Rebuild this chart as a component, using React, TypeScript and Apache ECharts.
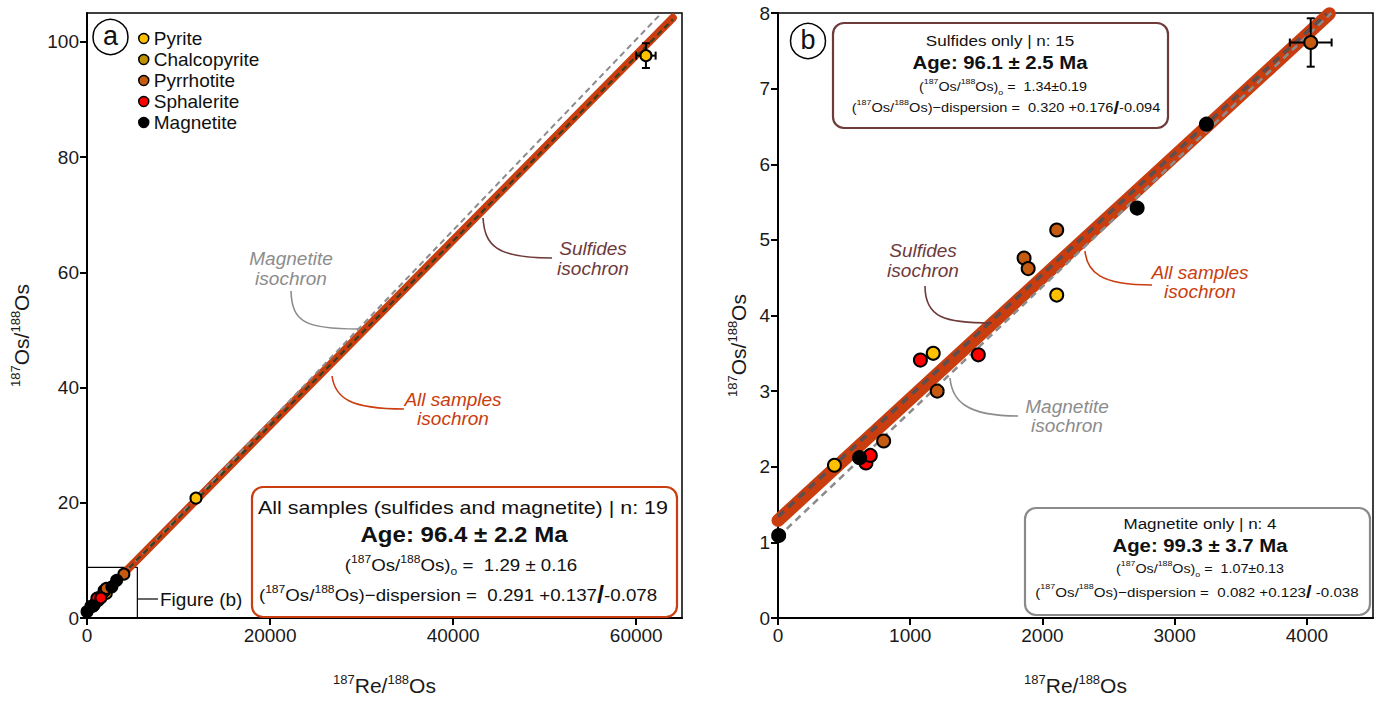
import React, { useEffect, useRef } from "react";
import * as echarts from "echarts";

const FONT = "'Liberation Sans', Arial, Helvetica, sans-serif";

const mineralNames = ["Pyrite", "Chalcopyrite", "Pyrrhotite", "Sphalerite", "Magnetite"];
const mineralColors = ["#FFC000", "#BF9000", "#C55A11", "#FF0000", "#000000"];

// [187Re/188Os, 187Os/188Os]
const pyrite = [[427, 2.02], [1174, 3.5], [2108, 4.27], [11900, 20.8], [61060, 97.6]];
const chalcopyrite: number[][] = [];
const pyrrhotite = [[799, 2.34], [1204, 3.0], [1861, 4.76], [1892, 4.62], [2108, 5.13], [4029, 7.61]];
const sphalerite = [[665, 2.05], [698, 2.15], [1077, 3.41], [1515, 3.48]];
const magnetite = [[5, 1.09], [617, 2.12], [2716, 5.42], [3240, 6.53]];
const mineralData = [pyrite, chalcopyrite, pyrrhotite, sphalerite, magnetite];

// [x, y, ±x, ±y]
const errorBars = [[61060, 97.6, 1060, 2.15], [4029, 7.61, 158, 0.32]];

// isochron end points
const allSamplesA = [[0, 1.29], [64000, 104.16]];
const sulfidesA = [[0, 1.34], [64000, 103.89]];
const magnetiteA = [[0, 1.07], [62600, 104.72]];
const allSamplesB = [[0, 1.29], [4170, 7.99]];
const sulfidesB = [[0, 1.34], [4150, 7.99]];
const magnetiteB = [[0, 1.07], [4185, 8.0]];

// outline of the zoomed region shown in panel (b)
const figureBBox = [[0, 8.8], [5500, 8.8], [5500, 0]];

const xTicksA = [0, 20000, 40000, 60000];
const yTicksA = [0, 20, 40, 60, 80, 100];
const xTicksB = [0, 1000, 2000, 3000, 4000];
const yTicksB = [0, 1, 2, 3, 4, 5, 6, 7, 8];

const ORANGE = "#C93D0E";
const SULF = "#6E3A3A";
const MAGN = "#8C8C8C";

const supStyle = (f: number, c = "#111") => ({
  fontSize: Math.round(f * 0.62),
  lineHeight: Math.round(f * 0.62),
  verticalAlign: "top",
  fontFamily: FONT,
  color: c,
  fill: c,
});
const subStyle = (f: number, c = "#111") => ({
  fontSize: Math.round(f * 0.62),
  lineHeight: Math.round(f * 0.62),
  verticalAlign: "bottom",
  fontFamily: FONT,
  color: c,
  fill: c,
});

const axisName = (a: string, b: string) => `{sup|187}${a}/{sup|188}${b}`;

function makeAxisCommon(ticks: number[]) {
  return {
    axisLine: { show: true, onZero: false, lineStyle: { color: "#000", width: 2 } },
    axisTick: { show: true, inside: false, length: 7, lineStyle: { color: "#000", width: 2 }, customValues: ticks },
    axisLabel: {
      customValues: ticks,
      fontSize: 19,
      color: "#1a1a1a",
      fontFamily: FONT,
      formatter: (v: number) => String(v),
    },
    splitLine: { show: false },
  };
}

const nameStyle = (shift: number) => ({
  fontSize: 21,
  lineHeight: 24,
  color: "#1a1a1a",
  fontFamily: FONT,
  padding: [0, shift * 2, 0, 0],
  rich: { sup: supStyle(21, "#1a1a1a") },
});

function text(x: number, y: number, t: string, f: number, opts: any = {}) {
  const fill = opts.fill || "#111";
  return {
    type: "text",
    x,
    y,
    scaleX: opts.scaleX || 1,
    silent: true,
    z: 100,
    style: {
      x: 0,
      y: 0,
      text: t,
      fontFamily: FONT,
      fontSize: f,
      fontWeight: opts.bold ? "bold" : "normal",
      fontStyle: opts.italic ? "italic" : "normal",
      fill,
      lineHeight: f + 6,
      align: opts.align || "center",
      verticalAlign: "middle",
      textAlign: opts.align || "center",
      textVerticalAlign: "middle",
      rich: {
        sup: supStyle(f, fill),
        sub: subStyle(f, fill),
        sl: { fontSize: Math.round(f * 1.35), fontWeight: "bold", lineHeight: f + 6, fill, color: fill, fontFamily: FONT },
      },
    },
  };
}

function box(x: number, y: number, w: number, h: number, stroke: string) {
  return {
    type: "rect",
    shape: { x, y, width: w, height: h, r: 11 },
    style: { fill: "#fff", stroke, lineWidth: 2.2 },
    silent: true,
    z: 90,
  };
}

function curve(p: number[], stroke: string) {
  return {
    type: "bezierCurve",
    shape: { x1: p[0], y1: p[1], cpx1: p[2], cpy1: p[3], cpx2: p[4], cpy2: p[5], x2: p[6], y2: p[7] },
    style: { stroke, lineWidth: 1.6, fill: "none" },
    silent: true,
    z: 95,
  };
}

const OSR = "({sup|187}Os/{sup|188}Os)";

function buildSeries() {
  const series: any[] = [];
  for (let p = 0; p < 2; p++) {
    const big = p === 1;
    const ax = { xAxisIndex: p, yAxisIndex: p };
    series.push({
      type: "line", ...ax, name: "All samples isochron", data: big ? allSamplesB : allSamplesA,
      symbol: "none", silent: true, z: 2,
      lineStyle: { color: ORANGE, width: big ? 13 : 8, cap: "round" },
    });
    series.push({
      type: "line", ...ax, name: "Magnetite isochron", data: big ? magnetiteB : magnetiteA,
      symbol: "none", silent: true, z: 3,
      lineStyle: { color: MAGN, width: big ? 2.5 : 2, type: big ? [7, 5] : [6, 4] },
    });
    series.push({
      type: "line", ...ax, name: "Sulfides isochron", data: big ? sulfidesB : sulfidesA,
      symbol: "none", silent: true, z: 4,
      lineStyle: { color: big ? "#5E4E4E" : "#354025", width: big ? 3.5 : 2.2, type: big ? [8, 6] : [6, 4] },
    });
    if (!big) {
      series.push({
        type: "line", ...ax, name: "Figure (b) box", data: figureBBox,
        symbol: "none", silent: true, z: 1,
        lineStyle: { color: "#000", width: 1.2 },
      });
    }
    series.push({
      type: "custom", ...ax, name: "errors", data: errorBars, z: 5, clip: true, silent: true,
      encode: { x: 0, y: 1 },
      renderItem: (_params: any, api: any) => {
        const x = api.value(0), y = api.value(1), ex = api.value(2), ey = api.value(3);
        const l = api.coord([x - ex, y]);
        const r = api.coord([x + ex, y]);
        const t = api.coord([x, y + ey]);
        const b = api.coord([x, y - ey]);
        const cap = 4;
        const st = { stroke: "#000", lineWidth: 2 };
        return {
          type: "group",
          children: [
            { type: "line", shape: { x1: l[0], y1: l[1], x2: r[0], y2: r[1] }, style: st },
            { type: "line", shape: { x1: t[0], y1: t[1], x2: b[0], y2: b[1] }, style: st },
            { type: "line", shape: { x1: l[0], y1: l[1] - cap, x2: l[0], y2: l[1] + cap }, style: st },
            { type: "line", shape: { x1: r[0], y1: r[1] - cap, x2: r[0], y2: r[1] + cap }, style: st },
            { type: "line", shape: { x1: t[0] - cap, y1: t[1], x2: t[0] + cap, y2: t[1] }, style: st },
            { type: "line", shape: { x1: b[0] - cap, y1: b[1], x2: b[0] + cap, y2: b[1] }, style: st },
          ],
        };
      },
    });
    mineralNames.forEach((n, i) => {
      series.push({
        type: "scatter", ...ax, name: n, data: mineralData[i], z: 6,
        symbol: "circle", symbolSize: big ? 13 : 11,
        itemStyle: { color: mineralColors[i], borderColor: "#000", borderWidth: 2, opacity: 1 },
      });
    });
  }
  return series;
}

function buildGraphic() {
  const g: any[] = [];
  // panel labels
  g.push({ type: "circle", shape: { cx: 110.5, cy: 37, r: 17.5 }, style: { fill: "#fff", stroke: "#000", lineWidth: 1.5 }, z: 90, silent: true });
  g.push(text(110.5, 36, "a", 27));
  g.push({ type: "circle", shape: { cx: 808, cy: 41, r: 17.5 }, style: { fill: "#fff", stroke: "#000", lineWidth: 1.5 }, z: 90, silent: true });
  g.push(text(808, 40, "b", 27));

  // Figure (b) pointer
  g.push({ type: "line", shape: { x1: 138, y1: 599, x2: 158, y2: 599 }, style: { stroke: "#000", lineWidth: 1.2 }, silent: true, z: 95 });
  g.push(text(160, 599, "Figure (b)", 19, { align: "left" }));

  // isochron labels panel a
  g.push(text(291, 258, "Magnetite", 19, { italic: true, fill: MAGN }));
  g.push(text(291, 278, "isochron", 19, { italic: true, fill: MAGN }));
  g.push(curve([291, 291, 292, 322, 305, 329, 358, 329], MAGN));
  g.push(text(593, 248, "Sulfides", 19, { italic: true, fill: SULF }));
  g.push(text(593, 268, "isochron", 19, { italic: true, fill: SULF }));
  g.push(curve([552, 258, 495, 258, 485, 245, 483, 218], SULF));
  g.push(text(453, 399, "All samples", 19, { italic: true, fill: ORANGE }));
  g.push(text(453, 418, "isochron", 19, { italic: true, fill: ORANGE }));
  g.push(curve([404, 409, 350, 409, 335, 398, 332, 376], ORANGE));

  // isochron labels panel b
  g.push(text(923, 250, "Sulfides", 19, { italic: true, fill: SULF }));
  g.push(text(923, 270, "isochron", 19, { italic: true, fill: SULF }));
  g.push(curve([925, 286, 925, 318, 945, 323, 992, 323], SULF));
  g.push(text(1200, 272, "All samples", 19, { italic: true, fill: ORANGE }));
  g.push(text(1200, 291, "isochron", 19, { italic: true, fill: ORANGE }));
  g.push(curve([1152, 285, 1100, 285, 1087, 272, 1085, 251], ORANGE));
  g.push(text(1067, 406, "Magnetite", 19, { italic: true, fill: MAGN }));
  g.push(text(1067, 425, "isochron", 19, { italic: true, fill: MAGN }));
  g.push(curve([1018, 416, 965, 416, 952, 400, 950, 378], MAGN));

  // All samples box
  g.push(box(252, 487, 425, 130, ORANGE));
  g.push(text(463, 507, "All samples (sulfides and magnetite) | n: 19", 19, { scaleX: 1.13 }));
  g.push(text(464, 534, "Age: 96.4 ± 2.2 Ma", 21.5, { bold: true, scaleX: 1.12 }));
  g.push(text(461, 565, `${OSR}{sub|o} =  1.29 ± 0.16`, 17, { scaleX: 1.1 }));
  g.push(text(458, 595, `${OSR}−dispersion =  0.291 +0.137{sl|/}-0.078`, 17, { scaleX: 1.1 }));

  // Sulfides box
  g.push(box(833, 23, 335, 105, SULF));
  g.push(text(1000, 40, "Sulfides only | n: 15", 15.5, { scaleX: 1.1 }));
  g.push(text(1000, 62, "Age: 96.1 ± 2.5 Ma", 18.5, { bold: true, scaleX: 1.1 }));
  g.push(text(1003, 87, `${OSR}{sub|o} =  1.34±0.19`, 13, { scaleX: 1.1 }));
  g.push(text(1006, 108, `${OSR}−dispersion =  0.320 +0.176{sl|/}-0.094`, 13, { scaleX: 1.12 }));

  // Magnetite box
  g.push(box(1025, 508, 345, 107, "#8A8A8A"));
  g.push(text(1200, 523, "Magnetite only | n: 4", 15.5, { scaleX: 1.1 }));
  g.push(text(1200, 545, "Age: 99.3 ± 3.7 Ma", 18.5, { bold: true, scaleX: 1.1 }));
  g.push(text(1200, 569, `${OSR}{sub|o} =  1.07±0.13`, 13, { scaleX: 1.1 }));
  g.push(text(1197, 592, `${OSR}−dispersion =  0.082 +0.123{sl|/} -0.038`, 13.5, { scaleX: 1.12 }));
  return g;
}

const option: any = {
  animation: false,
  backgroundColor: "#fff",
  textStyle: { fontFamily: FONT },
  grid: [
    { left: 87, top: 13, width: 595, height: 610, show: true, borderColor: "#000", borderWidth: 1.5, backgroundColor: "#fff" },
    { left: 778, top: 13, width: 595, height: 610, show: true, borderColor: "#000", borderWidth: 1.5, backgroundColor: "#fff" },
  ],
  xAxis: [
    {
      gridIndex: 0, type: "value", min: 0, max: 65000, interval: 20000, ...makeAxisCommon(xTicksA),
      name: axisName("Re", "Os"), nameLocation: "middle", nameGap: 55, nameTextStyle: nameStyle(0),
    },
    {
      gridIndex: 1, type: "value", min: 0, max: 4500, interval: 1000, ...makeAxisCommon(xTicksB),
      name: axisName("Re", "Os"), nameLocation: "middle", nameGap: 55, nameTextStyle: nameStyle(0),
    },
  ],
  yAxis: [
    {
      gridIndex: 0, type: "value", min: 0, max: 105, interval: 20, ...makeAxisCommon(yTicksA),
      name: axisName("Os", "Os"), nameLocation: "middle", nameGap: 54, nameTextStyle: nameStyle(20),
    },
    {
      gridIndex: 1, type: "value", min: 0, max: 8, interval: 1, ...makeAxisCommon(yTicksB),
      name: axisName("Os", "Os"), nameLocation: "middle", nameGap: 28, nameTextStyle: nameStyle(30),
    },
  ],
  legend: {
    data: mineralNames,
    orient: "vertical",
    left: 133,
    top: 23,
    icon: "circle",
    itemWidth: 10,
    itemHeight: 10,
    itemGap: 0,
    itemTextGap: 5,
    selectedMode: false,
    itemStyle: { borderColor: "#000", borderWidth: 1.5 },
    textStyle: { fontSize: 19, lineHeight: 21, color: "#111", fontFamily: FONT },
    z: 100,
  },
  series: buildSeries(),
  graphic: buildGraphic(),
};

export default function App() {
  const ref = useRef<HTMLDivElement>(null);
  useEffect(() => {
    const chart = echarts.init(ref.current!, null, { renderer: "svg" });
    chart.setOption(option);
    return () => chart.dispose();
  }, []);
  return (
    <div
      ref={ref}
      style={{ position: "fixed", left: 0, top: 0, width: 1380, height: 702, background: "#fff" }}
    />
  );
}
